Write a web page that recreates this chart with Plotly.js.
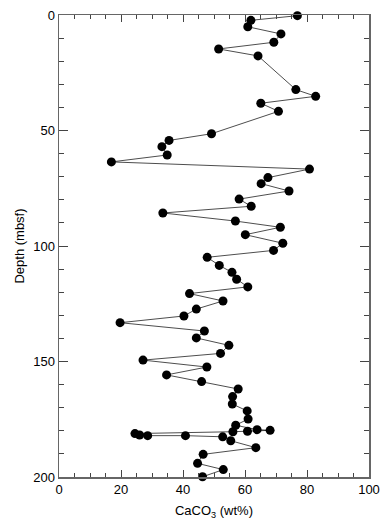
<!DOCTYPE html>
<html>
<head>
<meta charset="utf-8">
<script src="https://cdn.plot.ly/plotly-3.0.1.min.js"></script>
<style>html,body{margin:0;padding:0;background:#fff;}#chart{width:392px;height:524px;}</style>
</head>
<body>
<div id="chart"></div>
<script>
var depth = [0.3, 2.3, 5.1, 8.2, 11.8, 14.7, 17.7, 32.3, 35.2, 38.2, 41.7,
  51.4, 54.3, 57.0, 60.6, 63.6, 66.7, 70.4, 73.0, 76.2, 79.7, 82.8, 85.7, 89.2, 91.9, 95.1, 98.8,
  101.9, 104.9, 108.4, 111.4, 114.4, 117.7, 120.6, 123.8, 127.3, 130.3, 133.2, 136.8, 139.8, 143.0, 146.5, 149.4,
  152.4, 155.8, 158.7, 161.9, 165.2, 168.4, 171.4, 174.9, 177.6, 179.5, 179.8, 180.2, 180.4, 181.2, 181.8, 182.1, 182.1,
  182.6, 184.3, 187.3, 190.2, 194.1, 196.8, 199.9];
var caco3 = [76.9, 61.9, 60.9, 71.6, 69.3, 51.5, 64.2, 76.4, 82.8, 65.1, 70.8,
  49.2, 35.5, 33.2, 34.9, 16.9, 80.8, 67.4, 65.2, 74.2, 58.1, 62.0, 33.5, 56.9, 71.4, 60.1, 72.2,
  69.2, 47.8, 51.7, 55.8, 57.3, 60.9, 42.1, 52.9, 44.3, 40.3, 19.7, 46.9, 44.3, 54.8, 52.1, 27.1,
  47.7, 34.7, 46.0, 57.8, 56.0, 55.9, 60.7, 61.0, 57.0, 63.9, 68.1, 60.8, 56.1, 24.5, 26.0, 28.6, 40.8,
  52.8, 55.4, 63.5, 46.5, 44.7, 53.0, 46.3];
var xTickStep = 20, xMinorStep = 5;
var yTickStep = 50, yMinorStep = 10;

var trace = {
  x: caco3, y: depth, type: 'scatter', mode: 'lines+markers',
  line: {color: '#000', width: 0.7},
  marker: {color: '#000', size: 9, symbol: 'circle'},
  cliponaxis: false,
  hoverinfo: 'skip'
};
var fontFam = '"Liberation Sans", Arial, Helvetica, sans-serif';
var layout = {
  width: 392, height: 524,
  margin: {l: 59, r: 23, t: 15, b: 47},
  paper_bgcolor: '#fff', plot_bgcolor: '#fff',
  showlegend: false,
  font: {family: fontFam, size: 13, color: '#000'},
  xaxis: {
    range: [0, 100], tickmode: 'linear', tick0: 0, dtick: xTickStep,
    ticks: 'inside', ticklen: 7, tickcolor: '#444', tickwidth: 1,
    showline: true, linecolor: '#666', linewidth: 1.5, mirror: 'allticks',
    showgrid: false, zeroline: false,
    minor: {tick0: 0, dtick: xMinorStep, ticks: 'inside', ticklen: 4, tickcolor: '#444', tickwidth: 1, showgrid: false},
    tickfont: {size: 13, color: '#000'},
    title: {text: 'CaCO<sub>3</sub> (wt%)', font: {size: 13, color: '#000'}, standoff: 10}
  },
  yaxis: {
    range: [200, 0], tickmode: 'linear', tick0: 0, dtick: yTickStep,
    ticks: 'inside', ticklen: 9, tickcolor: '#444', tickwidth: 1,
    showline: true, linecolor: '#666', linewidth: 1.5, mirror: 'allticks',
    showgrid: false, zeroline: false,
    minor: {tick0: 0, dtick: yMinorStep, ticks: 'inside', ticklen: 5, tickcolor: '#444', tickwidth: 1, showgrid: false},
    tickfont: {size: 13, color: '#000'},
    title: {text: 'Depth (mbsf)', font: {size: 13, color: '#000'}, standoff: 5}
  }
};
Plotly.newPlot('chart', [trace], layout, {staticPlot: true, displayModeBar: false});
</script>
</body>
</html>
